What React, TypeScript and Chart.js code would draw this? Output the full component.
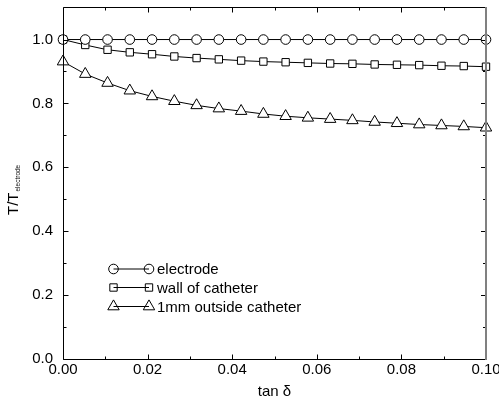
import { useEffect, useRef } from "react";
import { Chart, registerables } from "chart.js";

Chart.register(...registerables);

const FONT = "'Liberation Sans', Arial, Helvetica, sans-serif";

// loss tangent samples
const TAN_DELTA = [
  0, 0.00526, 0.01053, 0.01579, 0.02105, 0.02632, 0.03158, 0.03684, 0.04211, 0.04737,
  0.05263, 0.05789, 0.06316, 0.06842, 0.07368, 0.07895, 0.08421, 0.08947, 0.09474, 0.1,
];

// normalised temperature T / T_electrode
const ELECTRODE = [
  1, 1, 1, 1, 1, 1, 1, 1, 1, 1,
  1, 1, 1, 1, 1, 1, 1, 1, 1, 1,
];
const WALL_OF_CATHETER = [
  1.0, 0.983, 0.968, 0.96, 0.954, 0.947, 0.942, 0.938, 0.934, 0.931,
  0.929, 0.927, 0.925, 0.924, 0.922, 0.921, 0.92, 0.918, 0.917, 0.915,
];
const OUTSIDE_1MM = [
  0.931, 0.892, 0.864, 0.84, 0.822, 0.807, 0.794, 0.784, 0.776, 0.767,
  0.76, 0.755, 0.751, 0.747, 0.742, 0.738, 0.734, 0.731, 0.728, 0.724,
];

const SERIES_LABELS = ["electrode", "wall of catheter", "1mm outside catheter"];
const SERIES_MARKERS = ["circle", "rect", "triangle"];
const MARKER_RADIUS = [4.8, 5.2, 6.6];

const X_TICKS = [0, 0.02, 0.04, 0.06, 0.08, 0.1];
const X_MINOR = [0.01, 0.03, 0.05, 0.07, 0.09];
const Y_TICKS = [0, 0.2, 0.4, 0.6, 0.8, 1.0];
const Y_MINOR = [0.1, 0.3, 0.5, 0.7, 0.9];

function marker(ctx: CanvasRenderingContext2D, style: string, x: number, y: number, r: number, fill: boolean) {
  ctx.beginPath();
  if (style === "circle") {
    ctx.arc(x, y, r, 0, Math.PI * 2);
  } else if (style === "rect") {
    const s = r * Math.SQRT1_2;
    ctx.rect(x - s, y - s, 2 * s, 2 * s);
  } else {
    const a = (2 * Math.PI) / 3;
    ctx.moveTo(x, y - r);
    ctx.lineTo(x + Math.sin(a) * r, y - Math.cos(a) * r);
    ctx.lineTo(x + Math.sin(2 * a) * r, y - Math.cos(2 * a) * r);
    ctx.closePath();
  }
  if (fill) {
    ctx.fillStyle = "#fff";
    ctx.fill();
  }
  ctx.stroke();
}

const framePlugin = {
  id: "frame",
  afterDatasetsDraw(chart: any) {
    const ctx: CanvasRenderingContext2D = chart.ctx;
    const { left, right, top, bottom } = chart.chartArea;
    const xs = chart.scales.x;
    const ys = chart.scales.y;
    ctx.save();
    ctx.strokeStyle = "#000";
    ctx.lineWidth = 1;
    const L = Math.round(left) + 0.5;
    const B = Math.round(bottom) + 0.5;
    const T = Math.round(top) - 0.5;
    const R = Math.round(right);

    ctx.beginPath();
    ctx.moveTo(L, T);
    ctx.lineTo(R, T);
    ctx.moveTo(L, T);
    ctx.lineTo(L, B);
    ctx.lineTo(R, B);
    ctx.stroke();

    // inward tick marks on all four sides
    const xt = (vals: number[], len: number) => {
      for (const v of vals) {
        const px = Math.round(xs.getPixelForValue(v)) + 0.5;
        ctx.beginPath();
        ctx.moveTo(px, B);
        ctx.lineTo(px, B - len);
        ctx.moveTo(px, T);
        ctx.lineTo(px, T + len);
        ctx.stroke();
      }
    };
    const yt = (vals: number[], len: number) => {
      for (const v of vals) {
        const py = Math.round(ys.getPixelForValue(v)) + 0.5;
        ctx.beginPath();
        ctx.moveTo(L, py);
        ctx.lineTo(L + len, py);
        ctx.moveTo(R, py);
        ctx.lineTo(R - len, py);
        ctx.stroke();
      }
    };
    xt(X_TICKS, 5);
    xt(X_MINOR, 3);
    yt(Y_TICKS, 5);
    yt(Y_MINOR, 3);

    ctx.strokeStyle = "#808080";
    ctx.lineWidth = 2;
    ctx.beginPath();
    ctx.moveTo(R, T - 0.5);
    ctx.lineTo(R, B + 0.5);
    ctx.stroke();
    ctx.restore();
  },
  afterDraw(chart: any) {
    const ctx: CanvasRenderingContext2D = chart.ctx;
    ctx.save();

    // legend: marker — line — marker, then label
    const rowsY = [269, 287.5, 306.5];
    ctx.strokeStyle = "#000";
    ctx.lineWidth = 1;
    ctx.font = `15px ${FONT}`;
    ctx.fillStyle = "#000";
    ctx.textBaseline = "middle";
    ctx.textAlign = "left";
    SERIES_LABELS.forEach((label, i) => {
      const y = rowsY[i];
      const x1 = 113.5;
      const x2 = 149;
      ctx.beginPath();
      ctx.moveTo(x1, y);
      ctx.lineTo(x2, y);
      ctx.stroke();
      marker(ctx, SERIES_MARKERS[i], x1, y, MARKER_RADIUS[i], false);
      marker(ctx, SERIES_MARKERS[i], x2, y, MARKER_RADIUS[i], false);
      ctx.fillStyle = "#000";
      ctx.fillText(label, 157, y + 1);
    });

    // vertical axis title with subscript
    ctx.translate(18, 215);
    ctx.rotate(-Math.PI / 2);
    ctx.textBaseline = "alphabetic";
    ctx.font = `15px ${FONT}`;
    ctx.fillText("T/T", 0, 0);
    const w = ctx.measureText("T/T").width;
    ctx.font = `6.5px ${FONT}`;
    ctx.fillText("electrode", w + 1, 2);
    ctx.restore();
  },
};

export default function App() {
  const canvasRef = useRef<HTMLCanvasElement | null>(null);

  useEffect(() => {
    if (!canvasRef.current) return;
    const series = [ELECTRODE, WALL_OF_CATHETER, OUTSIDE_1MM];
    const chart = new Chart(canvasRef.current, {
      type: "line",
      data: {
        datasets: series.map((vals, i) => ({
          label: SERIES_LABELS[i],
          data: TAN_DELTA.map((x, j) => ({ x, y: vals[j] })),
          borderColor: "#000",
          borderWidth: 1,
          pointStyle: SERIES_MARKERS[i] as any,
          pointRadius: MARKER_RADIUS[i],
          pointBorderColor: "#000",
          pointBackgroundColor: "#fff",
          pointBorderWidth: 1,
          tension: 0,
          fill: false,
          clip: false as any,
        })),
      },
      options: {
        animation: false,
        responsive: false,
        layout: { padding: { top: 6, right: 13, left: 0, bottom: 0 } },
        plugins: {
          legend: { display: false },
          tooltip: { enabled: false },
        },
        scales: {
          x: {
            type: "linear",
            min: 0,
            max: 0.1,
            afterBuildTicks: (s: any) => {
              s.ticks = X_TICKS.map((v) => ({ value: v }));
            },
            afterFit: (s: any) => {
              s.height = 42;
              s.paddingLeft = 0;
              s.paddingRight = 0;
            },
            grid: { display: false, drawTicks: false },
            border: { display: false },
            ticks: {
              padding: 2,
              color: "#000",
              font: { family: FONT, size: 15 },
              maxRotation: 0,
              callback: (v: any) => Number(v).toFixed(2),
            },
            title: {
              display: true,
              text: "tan δ",
              color: "#000",
              font: { family: FONT, size: 15 },
              padding: { top: 0, bottom: 0 },
            },
          },
          y: {
            type: "linear",
            min: 0,
            max: 1.1,
            afterBuildTicks: (s: any) => {
              s.ticks = Y_TICKS.map((v) => ({ value: v }));
            },
            afterFit: (s: any) => {
              s.width = 63;
              s.paddingTop = 0;
              s.paddingBottom = 0;
            },
            grid: { display: false, drawTicks: false },
            border: { display: false },
            ticks: {
              padding: 10,
              color: "#000",
              font: { family: FONT, size: 15 },
              callback: (v: any) => Number(v).toFixed(1),
            },
          },
        },
      },
      plugins: [framePlugin],
    });
    return () => chart.destroy();
  }, []);

  return (
    <div style={{ position: "absolute", left: 0, top: 0, width: 499, height: 401, background: "#fff" }}>
      <canvas ref={canvasRef} width={499} height={401} />
    </div>
  );
}
